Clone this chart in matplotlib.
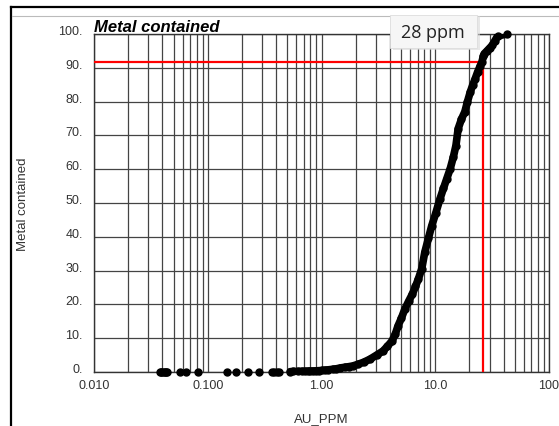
import matplotlib
matplotlib.use("Agg")
import matplotlib.pyplot as plt
from matplotlib.lines import Line2D
from matplotlib.patches import Rectangle
import numpy as np

plt.rcParams['font.family'] = ['Liberation Sans', 'DejaVu Sans']

# grade (AU ppm) vs cumulative metal contained (%)
au_ppm = [0.038, 0.039, 0.040, 0.041, 0.042, 0.043, 0.044, 0.057, 0.064, 0.082,
          0.148, 0.177, 0.226, 0.282, 0.37, 0.38, 0.41, 0.42, 0.53, 0.56,
          0.62, 0.67, 0.72, 0.76, 0.80, 0.85, 0.90, 0.95, 1.0, 1.08,
          1.15, 1.25, 1.35, 1.46, 1.6, 1.75, 1.89, 2.1, 2.35, 2.67,
          3.05, 3.47, 3.8, 4.17, 4.45, 4.7, 5.05, 5.4, 5.85, 6.3,
          6.7, 7.1, 7.6, 8.1, 8.7, 9.3, 10.1, 11.0, 11.8, 12.6,
          13.5, 14.4, 15.2, 15.9, 17.0, 18.2, 19.2, 20.3, 21.3, 22.4,
          23.6, 24.8, 25.7, 26.5, 27.0, 28.5, 30.0, 31.6, 33.3, 35.3, 42.6]
metal_pct = [0.0, 0.0, 0.0, 0.0, 0.0, 0.0, 0.0, 0.0, 0.0, 0.0,
             0.0, 0.0, 0.0, 0.05, 0.05, 0.05, 0.1, 0.1, 0.1, 0.15,
             0.15, 0.2, 0.2, 0.25, 0.3, 0.3, 0.35, 0.4, 0.45, 0.55,
             0.65, 0.8, 0.95, 1.2, 1.4, 1.6, 1.8, 2.3, 2.9, 3.8,
             5.0, 6.2, 7.6, 9.2, 11.2, 13.6, 16.0, 18.6, 21.0, 23.1,
             25.3, 27.5, 30.5, 35.5, 39.5, 43.2, 47.0, 51.2, 54.3, 57.1,
             60.0, 63.5, 67.0, 72.0, 74.8, 77.0, 80.0, 82.8, 84.8, 86.7,
             88.8, 90.5, 91.7, 93.5, 94.2, 95.0, 95.8, 96.6, 97.9, 99.4, 100.0]

cutoff_ppm = 26.5
cutoff_pct = 91.7
cutoff_label = "28 ppm"

xticks = [0.01, 0.1, 1, 10, 100]
xtick_labels = ['0.010', '0.100', '1.00', '10.0', '100']
yticks = [0, 10, 20, 30, 40, 50, 60, 70, 80, 90, 100]
ytick_labels = [f'{v}.' for v in yticks]

W, H = 559, 427
fig = plt.figure(figsize=(W / 100, H / 100), dpi=100)
ax = fig.add_axes([94 / W, 1 - 373 / H, (549 - 94) / W, (373 - 35) / H])

ax.set_xscale('log')
ax.set_xlim(0.01, 100)
ax.set_ylim(0, 100)
ax.grid(which='both', color='#444444', lw=0.9)
ax.set_axisbelow(True)
ax.set_xticks(xticks)
ax.set_xticklabels(xtick_labels)
ax.set_yticks(yticks)
ax.set_yticklabels(ytick_labels)
ax.tick_params(which='both', length=0, labelsize=9, labelcolor='#333333')
ax.tick_params(axis='x', pad=5)
ax.tick_params(axis='y', pad=8)
for lab in ax.get_yticklabels():
    lab.set_verticalalignment('baseline')
for s in ax.spines.values():
    s.set_color('#333333')
    s.set_linewidth(1)

x = np.array(au_ppm)
y = np.array(metal_pct)
dense = x >= 0.5
ax.plot(x[dense], y[dense], color='black', lw=5.5, solid_capstyle='round',
        solid_joinstyle='round', zorder=4)
ax.plot(x, y, 'o', color='black', ms=5, zorder=5, clip_on=False)

ax.hlines(cutoff_pct, 0.01, cutoff_ppm, color='red', lw=1.6, zorder=3)
ax.vlines(cutoff_ppm, 0, cutoff_pct, color='red', lw=1.6, zorder=3)

ax.set_title('Metal contained', loc='left', fontsize=12, fontweight='bold',
             fontstyle='italic', pad=2)
ax.set_xlabel('AU_PPM', fontsize=9.5, color='#333333', labelpad=15)
ax.set_ylabel('Metal contained', fontsize=9.5, color='#333333', labelpad=21)

# screenshot frame
fig.add_artist(Line2D([11 / W, 1], [1 - 8 / H, 1 - 8 / H], color='black', lw=1.6))
fig.add_artist(Line2D([11 / W, 11 / W], [0, 1 - 8 / H], color='black', lw=1.6))
fig.add_artist(Line2D([12 / W, 1], [1 - 17 / H, 1 - 17 / H], color='#bbbbbb', lw=0.8))

# callout box
fig.add_artist(Rectangle((393 / W, 1 - 51 / H), 87 / W, 34 / H, facecolor='#d8d8d8',
                         edgecolor='none', alpha=0.6, zorder=9))
fig.add_artist(Rectangle((390 / W, 1 - 49 / H), 87 / W, 33 / H, facecolor='#f6f6f6',
                         edgecolor='#dddddd', lw=0.6, zorder=10))
fig.text(433 / W, 1 - 33 / H, cutoff_label, fontsize=13, family='Open Sans',
         ha='center', va='center', color='#222222', zorder=11)

fig.savefig('out.png', dpi=100)
